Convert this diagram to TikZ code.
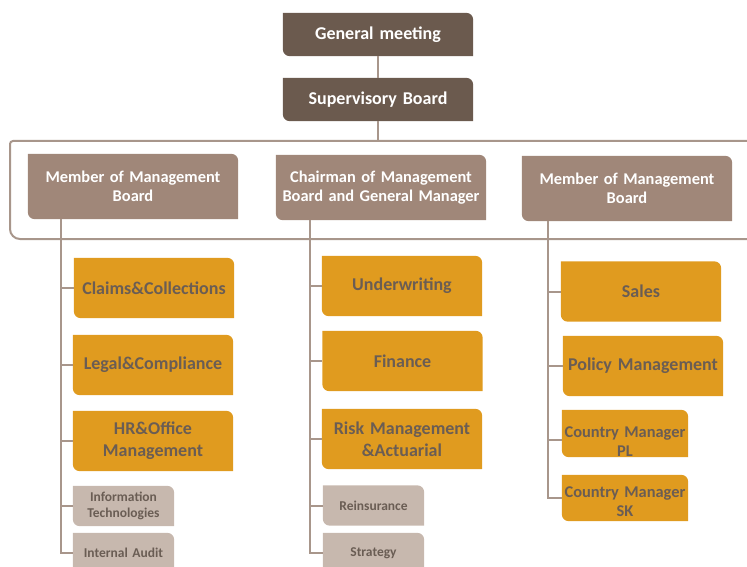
\documentclass[tikz,border=0pt]{standalone}
\usepackage{fontspec}
\setmainfont{Carlito}
\usetikzlibrary{backgrounds}
\definecolor{darkbrown}{HTML}{6B5A4E}
\definecolor{boardbrown}{HTML}{A08779}
\definecolor{orgorange}{HTML}{E09B1F}
\definecolor{greytaupe}{HTML}{C7B8AE}
\definecolor{textgrey}{HTML}{6A5D54}
\definecolor{linebrown}{HTML}{A8968B}
\tikzset{
	box/.style={inner sep=0pt, align=center},
	topbox/.style={box, minimum width=190pt, minimum height=43pt, text width=182pt, text=white, font=\bfseries\fontsize{18}{22}\selectfont},
	boardbox/.style={box, minimum width=210pt, minimum height=65pt, text width=204pt, text=white, font=\bfseries\fontsize{16.4}{19.5}\selectfont},
	deptbox/.style={box, minimum width=160pt, minimum height=60pt, text width=152pt, text=textgrey, font=\bfseries\fontsize{18}{22}\selectfont},
	countrybox/.style={box, minimum width=126pt, minimum height=47pt, text width=124pt, text=textgrey, font=\bfseries\fontsize{16.4}{19}\selectfont},
	unitbox/.style={box, minimum width=101pt, minimum height=40pt, text width=97pt, text=textgrey, font=\bfseries\fontsize{13.5}{16}\selectfont},
	link/.style={draw=linebrown, line width=2pt},
}
% fill with round top right and bottom left corners
\newcommand{\orgfill}[2]{\fill[#2] (#1.north west) -- ([xshift=-7pt]#1.north east) arc[start angle=90,end angle=0,radius=7pt] -- (#1.south east) -- ([xshift=7pt]#1.south west) arc[start angle=270,end angle=180,radius=7pt] -- cycle;}

\begin{document}
\begin{tikzpicture}[x=1pt,y=1pt]
	\useasboundingbox (0,0) rectangle (747,-567);
	\node at (378, -34.5) [topbox] (gm) {General meeting};
	\node at (378, -99.5) [topbox] (sb) {Supervisory Board};
	\coordinate (ftop) at (378, -141);

	\node at (133, -186.5) [boardbox] (mmbl) {Member of Management\\Board};
	\node at (381, -187.5) [boardbox] (chair) {Chairman of Management\\Board and General Manager};
	\node at (627, -188.5) [boardbox] (mmbr) {Member of Management\\Board};

	\node at (154, -288) [deptbox] (cc) {Claims\&Collections};
	\node at (153, -365) [deptbox] (lc) {Legal\&Compliance};
	\node at (153, -441) [deptbox] (hr) {HR\&Office\\Management};
	\node at (123.5, -506) [unitbox] (it) {Information\\Technologies};
	\node at (123.5, -553) [unitbox] (ia) {Internal Audit};

	\node at (402, -286) [deptbox] (uw) {Underwriting};
	\node at (402.5, -361) [deptbox] (fin) {Finance};
	\node at (402, -439) [deptbox] (risk) {Risk Management\\\&Actuarial};
	\node at (373.5, -505.5) [unitbox] (re) {Reinsurance};
	\node at (373.5, -553) [unitbox] (strat) {Strategy};

	\node at (641, -291.5) [deptbox] (sales) {Sales};
	\node at (643, -366) [deptbox] (pol) {Policy Management};
	\node at (625, -433.5) [countrybox] (pl) {\rule{0pt}{26.5pt}Country Manager\\PL};
	\node at (625, -498) [countrybox, minimum height=46pt] (sk) {\rule{0pt}{18.5pt}Country Manager\\SK};

	\begin{scope}[on background layer]
		\foreach \n/\c in {gm/darkbrown, sb/darkbrown, mmbl/boardbrown, chair/boardbrown, mmbr/boardbrown,
			cc/orgorange, lc/orgorange, hr/orgorange, uw/orgorange, fin/orgorange, risk/orgorange,
			sales/orgorange, pol/orgorange, pl/orgorange, sk/orgorange,
			it/greytaupe, ia/greytaupe, re/greytaupe, strat/greytaupe}
			{\orgfill{\n}{\c}}
	\end{scope}

	%\draw (0,0) rectangle (747,-567);
	\draw [link] (760, -141) -- (13, -141) arc[start angle=90, end angle=180, radius=3pt] -- (10, -229) arc[start angle=180, end angle=270, radius=10pt] -- (760, -239);
	\draw [link] (gm) -- (sb);
	\draw [link] (sb) -- (sb.south |- ftop);

	\coordinate (lsp) at (61, 0);
	\coordinate (msp) at (310, 0);
	\coordinate (rsp) at (548, 0);
	\coordinate (plin) at ([yshift=-6.5pt]pl.west);

	\draw [link] (mmbl.south -| lsp) |- (ia.west);
	\foreach \n in {cc, lc, hr, it}
		\draw [link] (lsp |- \n.west) -- (\n.west);
	\draw [link] (chair.south -| msp) |- (strat.west);
	\foreach \n in {uw, fin, risk, re}
		\draw [link] (msp |- \n.west) -- (\n.west);
	\draw [link] (mmbr.south -| rsp) |- (sk.west);
	\foreach \n in {sales, pol}
		\draw [link] (rsp |- \n.west) -- (\n.west);
	\draw [link] (rsp |- plin) -- (plin);
\end{tikzpicture}
\end{document}
